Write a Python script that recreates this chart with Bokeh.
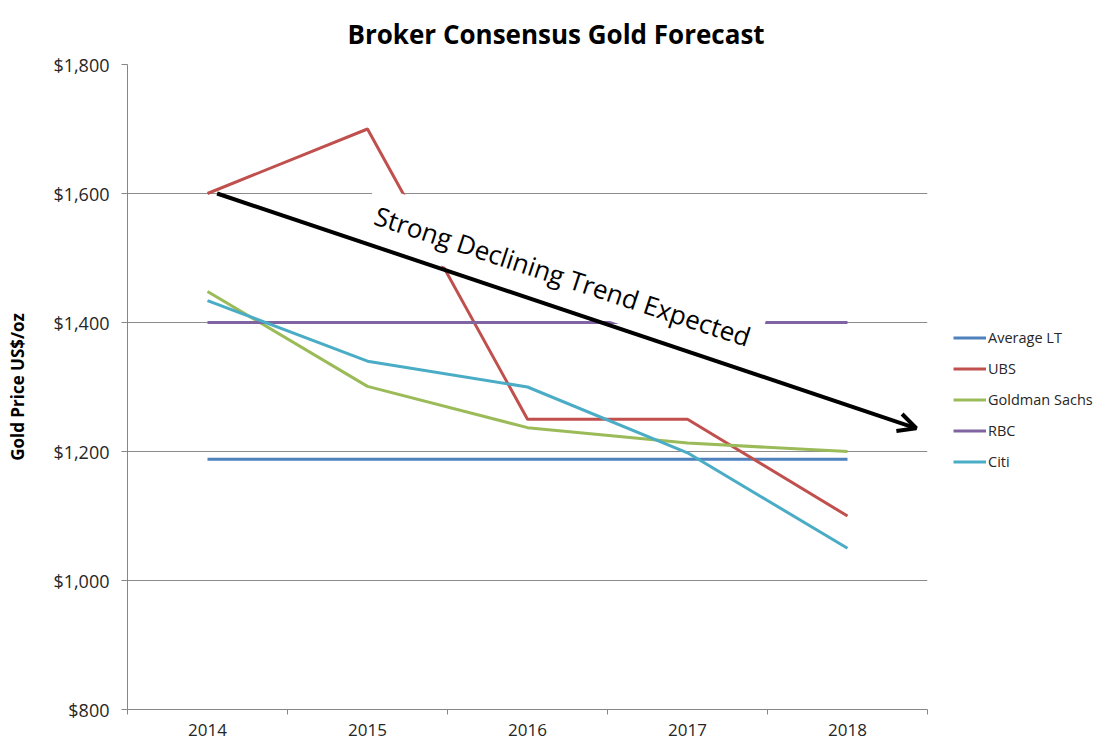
from bokeh.plotting import figure
from bokeh.models import (FixedTicker, NumeralTickFormatter, Legend, LegendItem,
                          Label, Arrow, OpenHead, Range1d)
from bokeh.embed import file_html
from bokeh.resources import INLINE

years = ["2014", "2015", "2016", "2017", "2018"]
average_lt = [1188, 1188, 1188, 1188, 1188]
ubs = [1600, 1700, 1250, 1250, 1100]
goldman = [1448, 1301, 1237, 1213, 1200]
rbc = [1400, 1400, 1400, 1400, 1400]
citi = [1434, 1340, 1300, 1198, 1050]
y_ticks = [800, 1000, 1200, 1400, 1600, 1800]

series_names = ["Average LT", "UBS", "Goldman Sachs", "RBC", "Citi"]
series_values = [average_lt, ubs, goldman, rbc, citi]
colors = ["#4F81BD", "#C0504D", "#9BBB59", "#8064A2", "#4BACC6"]

# trend arrow (in category index / price units)
arrow_start = (0.56, 1600)
arrow_end = (4.93, 1236)
trend_text = "Strong Declining Trend Expected"
trend_pos = (2.72, 1472)

FONT = "Open Sans"

xs = [i + 0.5 for i in range(len(years))]

p = figure(frame_width=800, frame_height=645, output_backend="svg", toolbar_location=None,
           x_range=Range1d(0, len(years)), y_range=Range1d(800, 1800),
           min_border_left=127, min_border_right=177, min_border_top=64,
           min_border_bottom=35)
p.outline_line_color = None
p.background_fill_color = "white"
p.border_fill_color = "white"

p.title.text = "Broker Consensus Gold Forecast"
p.title.text_font = FONT
p.title.text_font_size = "26px"
p.title.text_font_style = "bold"
p.title.text_color = "#000000"
p.title.align = "left"
p.title.offset = 220
p.title.standoff = 25

# x axis
p.xaxis.ticker = FixedTicker(ticks=xs, minor_ticks=list(range(len(years) + 1)))
p.xaxis.major_label_overrides = {x: y for x, y in zip(xs, years)}
p.xaxis.major_tick_line_color = None
p.xaxis.minor_tick_line_color = "#868686"
p.xaxis.minor_tick_in = 0
p.xaxis.minor_tick_out = 5
p.xaxis.axis_line_color = "#868686"
p.xaxis.major_label_text_font = FONT
p.xaxis.major_label_text_font_size = "17px"
p.xaxis.major_label_text_color = "#262626"
p.xaxis.major_label_standoff = 8
p.xgrid.grid_line_color = None

# y axis
p.yaxis.ticker = FixedTicker(ticks=y_ticks, minor_ticks=[])
p.yaxis.formatter = NumeralTickFormatter(format="$0,0")
p.yaxis.axis_line_color = "#868686"
p.yaxis.major_tick_line_color = "#868686"
p.yaxis.major_tick_in = 0
p.yaxis.major_tick_out = 6
p.yaxis.minor_tick_line_color = None
p.yaxis.major_label_text_font = FONT
p.yaxis.major_label_text_font_size = "18px"
p.yaxis.major_label_text_color = "#262626"
p.yaxis.major_label_standoff = 12
p.yaxis.axis_label = "Gold Price US$/oz"
p.yaxis.axis_label_text_font = FONT
p.yaxis.axis_label_text_font_size = "17px"
p.yaxis.axis_label_text_font_style = "bold"
p.yaxis.axis_label_text_color = "#000000"
p.yaxis.axis_label_standoff = 21
p.ygrid.grid_line_color = "#8c8c8c"
p.ygrid.grid_line_width = 1

items = []
for name, vals, c in zip(series_names, series_values, colors):
    r = p.line(xs, vals, line_color=c, line_width=3)
    items.append(LegendItem(label=name, renderers=[r]))

legend = Legend(items=items, location="center_left", orientation="vertical",
                border_line_color=None, background_fill_alpha=0,
                padding=0, margin=0, spacing=10, glyph_width=33, glyph_height=21,
                label_height=21, label_standoff=2,
                title=" ", title_text_font_size="18px", title_standoff=4,
                label_text_font=FONT, label_text_font_size="14.5px",
                label_text_color="#262626")
legend.margin = 26
p.add_layout(legend, "right")

lab = Label(x=trend_pos[0], y=trend_pos[1], text=trend_text, angle=-18.2,
            angle_units="deg", text_align="center", text_baseline="middle",
            text_font=FONT, text_font_size="26px", text_color="#000000",
            background_fill_color="white", padding=10)
p.add_layout(lab)

arr = Arrow(x_start=arrow_start[0], y_start=arrow_start[1],
            x_end=arrow_end[0], y_end=arrow_end[1],
            line_color="black", line_width=4,
            end=OpenHead(size=18, line_width=4, line_color="black"))
p.add_layout(arr)

open("out.html", "w").write(file_html(p, INLINE))
